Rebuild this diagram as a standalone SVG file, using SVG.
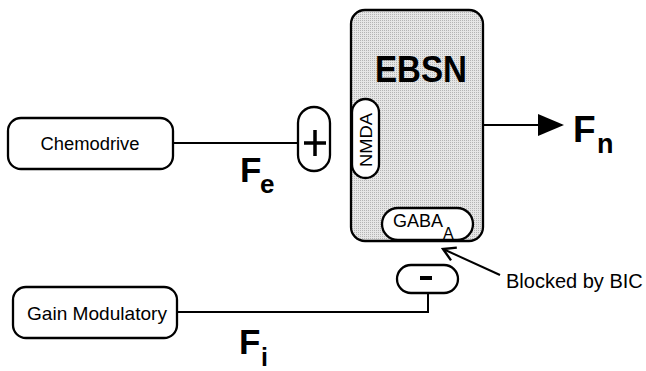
<svg xmlns="http://www.w3.org/2000/svg" width="646" height="371" viewBox="0 0 646 371">
<style>
.box{fill:#fff;stroke:#000;stroke-width:2.3}
.cell{stroke:#000;stroke-width:2.3}
.ln{fill:none;stroke:#000;stroke-width:2}
.t{font-family:"Liberation Sans",Arial,Helvetica,sans-serif;fill:#000}
.big{font-family:"Liberation Sans",Arial,Helvetica,sans-serif;font-weight:bold;fill:#000}
</style>
<defs>
<pattern id="stip" width="2" height="2" patternUnits="userSpaceOnUse">
<rect width="2" height="2" fill="#e6e6e6"/>
<rect width="1" height="1" fill="#b4b4b4"/>
</pattern>
<marker id="solid" viewBox="0 0 26 22" refX="24" refY="11" markerWidth="26" markerHeight="22" markerUnits="userSpaceOnUse" orient="auto">
<path d="M0,0 L26,11 L0,22 Z" fill="#000"/>
</marker>
<marker id="open" viewBox="0 0 16 16" refX="14" refY="8" markerWidth="16" markerHeight="16" markerUnits="userSpaceOnUse" orient="auto">
<path d="M2,1 L14,8 L2,15" fill="none" stroke="#000" stroke-width="2.4"/>
</marker>
</defs>

<g id="connectors">
<line class="ln" x1="173" y1="143" x2="298" y2="143"/>
<polyline class="ln" points="428,293 428,312 177,312"/>
<line class="ln" x1="483" y1="125" x2="562" y2="125" stroke-width="2.5" marker-end="url(#solid)"/>
<line class="ln" x1="500" y1="275" x2="443" y2="249" stroke-width="2.4" marker-end="url(#open)"/>
</g>

<g id="chemodrive">
<rect class="box" x="8" y="118" width="165" height="51" rx="13"/>
<text class="t" x="90" y="150" font-size="18" text-anchor="middle" textLength="99" lengthAdjust="spacingAndGlyphs">Chemodrive</text>
</g>

<g id="gain-modulatory">
<rect class="box" x="13" y="287" width="164" height="51" rx="13"/>
<text class="t" x="97" y="320" font-size="19" text-anchor="middle" textLength="140" lengthAdjust="spacingAndGlyphs">Gain Modulatory</text>
</g>

<g id="plus">
<rect class="box" x="298" y="107" width="32" height="64" rx="16"/>
<path d="M304,143 H326 M315,130 V156" stroke="#000" stroke-width="3.5" fill="none"/>
</g>

<g id="ebsn">
<rect class="cell" x="351" y="10" width="132" height="231" rx="14" fill="url(#stip)"/>
<text class="big" x="421" y="82" font-size="36" text-anchor="middle" textLength="92" lengthAdjust="spacingAndGlyphs">EBSN</text>
</g>

<g id="nmda">
<rect class="box" x="352" y="99" width="27" height="79" rx="13.5"/>
<text class="t" transform="translate(372,140) rotate(-90)" font-size="17" text-anchor="middle" textLength="54" lengthAdjust="spacingAndGlyphs">NMDA</text>
</g>

<g id="gaba">
<rect class="box" x="382" y="208" width="91" height="32" rx="16"/>
<text class="t" x="393" y="227" font-size="18">GABA<tspan x="443" y="238.5" font-size="16">A</tspan></text>
</g>

<g id="minus">
<rect class="box" x="397" y="265" width="61" height="28" rx="14"/>
<rect x="420" y="276" width="12" height="4" fill="#000"/>
</g>

<g id="labels">
<text class="big" x="240" y="182" font-size="35">F<tspan x="260" y="193" font-size="26">e</tspan></text>
<text class="big" x="573" y="142" font-size="37">F<tspan x="597" y="153" font-size="27">n</tspan></text>
<text class="big" x="239" y="354" font-size="35">F<tspan x="261" y="366" font-size="25">i</tspan></text>
<text class="t" x="506" y="288" font-size="20">Blocked by BIC</text>
</g>
</svg>
